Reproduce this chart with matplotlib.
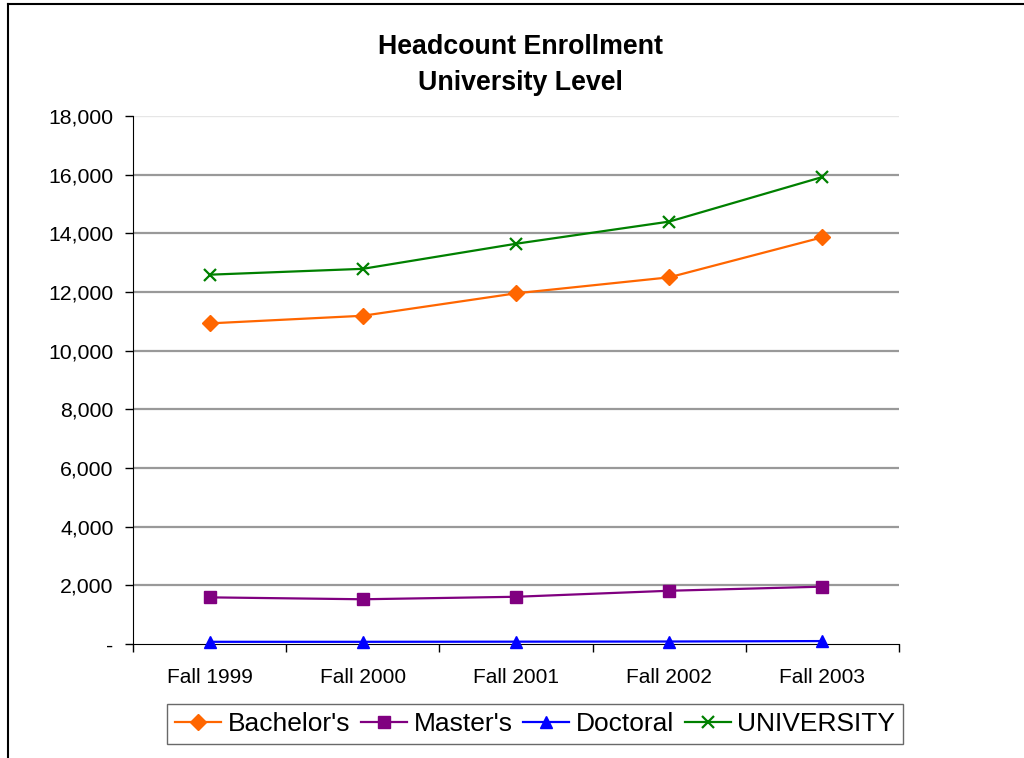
# Headcount enrollment by degree level, Fall 1999 - Fall 2003

import numpy as np
import matplotlib.pyplot as plt
from matplotlib.lines import Line2D
from matplotlib.ticker import FuncFormatter

# ================================= Data =================================
terms = ['Fall 1999', 'Fall 2000', 'Fall 2001', 'Fall 2002', 'Fall 2003']
bachelors = [10930, 11190, 11955, 12500, 13865]
masters = [1590, 1525, 1610, 1815, 1955]
doctoral = [75, 75, 80, 85, 100]
university = [12590, 12790, 13645, 14400, 15920]

series = [
    ("Bachelor's", bachelors, '#FF6600', 'D', 8),
    ("Master's", masters, '#800080', 's', 8),
    ('Doctoral', doctoral, '#0000FF', '^', 9),
    ('UNIVERSITY', university, '#008000', 'x', 9),
]

# ================================= Plot =================================
plt.rcParams['font.family'] = ['Liberation Sans', 'DejaVu Sans']

fig = plt.figure(figsize=(10.24, 7.58), dpi=100)
ax = fig.add_axes([133 / 1024, 1 - 644 / 758, (899 - 133) / 1024, (644 - 116) / 758])

x = np.arange(len(terms))
for name, vals, col, mk, ms in series:
    ax.plot(x, vals, color=col, marker=mk, markersize=ms, lw=1.6,
            markeredgewidth=1.6 if mk == 'x' else 1, clip_on=False, zorder=3)

ax.set_xlim(-0.5, len(terms) - 0.5)
ax.set_ylim(0, 18000)
ax.set_yticks(np.arange(0, 18001, 2000))
ax.yaxis.set_major_formatter(FuncFormatter(lambda v, p: '-' if v == 0 else f'{int(v):,}'))
for yv in range(2000, 18000, 2000):
    ax.axhline(yv, color='#999999', lw=1.6, zorder=1)
ax.axhline(18000, color='#e6e6e6', lw=1, zorder=1)

# category ticks at boundaries, labels centred
ax.set_xticks(np.arange(-0.5, len(terms), 1.0))
ax.set_xticklabels([])
ax.set_xticks(x, minor=True)
ax.set_xticklabels(terms, minor=True)
ax.tick_params(axis='x', which='minor', length=0, pad=17, labelsize=15)
ax.tick_params(axis='x', which='major', length=6, direction='out', width=1)
ax.tick_params(axis='y', length=6, direction='out', width=1, labelsize=15.3, pad=8)

for s in ['top', 'right']:
    ax.spines[s].set_visible(False)
ax.spines['left'].set_color('black')
ax.spines['bottom'].set_color('black')

fig.text(0.508, 1 - 65 / 758, 'Headcount Enrollment\nUniversity Level', ha='center',
         va='center', fontsize=19.3, fontweight='bold', linespacing=1.55)

handles = [Line2D([0], [0], color=c, marker=m, markersize=ms, lw=1.6,
                  markeredgewidth=1.6 if m == 'x' else 1)
           for _, _, c, m, ms in series]
leg = fig.legend(handles, [s[0] for s in series], loc='center',
                 bbox_to_anchor=(535 / 1024, 1 - 724 / 758), ncol=4, fontsize=19,
                 frameon=True, fancybox=False, edgecolor='#444444',
                 handlelength=1.75, handletextpad=0.25, columnspacing=0.4,
                 borderpad=0.3, borderaxespad=0)
leg.get_frame().set_linewidth(1)

# outer chart border (left and top only visible)
fig.add_artist(Line2D([8 / 1024, 8 / 1024], [0, 1 - 4 / 758], color='black', lw=1.5))
fig.add_artist(Line2D([8 / 1024, 1], [1 - 4 / 758, 1 - 4 / 758], color='black', lw=1.5))

fig.savefig('out.png', dpi=100)
